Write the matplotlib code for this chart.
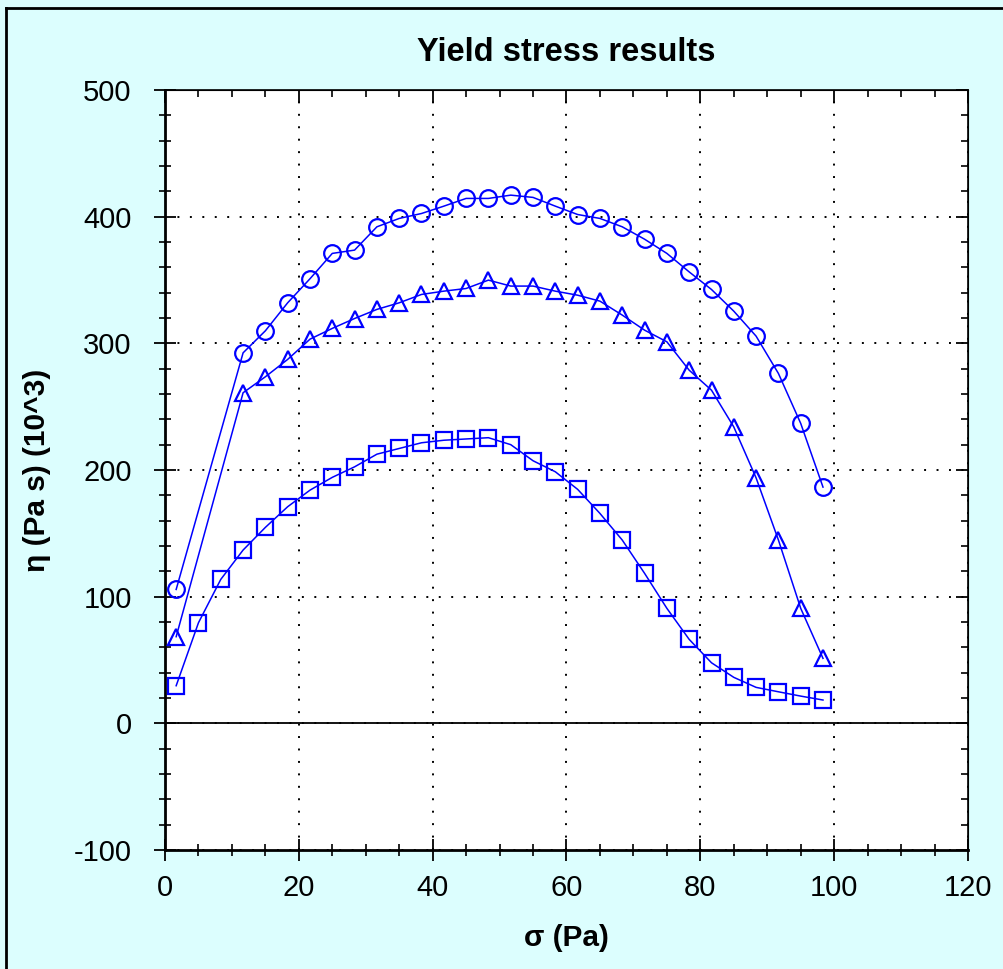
import matplotlib
matplotlib.use("Agg")
import matplotlib.pyplot as plt
from matplotlib.ticker import MultipleLocator
from matplotlib.lines import Line2D

plt.rcParams['font.family'] = ['Liberation Sans', 'DejaVu Sans']
plt.rcParams['axes.unicode_minus'] = False

# x positions (Pa)
x_all = [1.67, 5.0, 8.33, 11.67, 15.0, 18.33, 21.67, 25.0, 28.33, 31.67, 35.0,
         38.33, 41.67, 45.0, 48.33, 51.67, 55.0, 58.33, 61.67, 65.0, 68.33,
         71.67, 75.0, 78.33, 81.67, 85.0, 88.33, 91.67, 95.0, 98.33]
x_sub = [1.67, 11.67, 15.0, 18.33, 21.67, 25.0, 28.33, 31.67, 35.0,
         38.33, 41.67, 45.0, 48.33, 51.67, 55.0, 58.33, 61.67, 65.0, 68.33,
         71.67, 75.0, 78.33, 81.67, 85.0, 88.33, 91.67, 95.0, 98.33]

circles = [105.7, 292.5, 309.9, 332, 351, 371, 373.6, 392, 398.6, 402.5, 408.3,
           414.4, 414.4, 417, 415.2, 408.3, 401.7, 398.6, 392, 382.2, 371,
           356.4, 342.5, 325.4, 305.7, 276.2, 236.8, 186.5]
triangles = [68.4, 261, 273.6, 287.3, 303.3, 311.8, 319.6, 326.8, 332, 338.6,
             341.2, 343.3, 349.9, 345.2, 345.2, 341.2, 338, 333.3, 322.3, 310.4,
             301.2, 278.8, 263, 234, 193.8, 144.7, 90.8, 51.3]
squares = [29.7, 79.4, 113.6, 136.8, 154.7, 171, 184.1, 194.2, 202.5, 212.5,
           217, 221.5, 223.5, 224.5, 225.5, 220, 207.3, 198.6, 184.7, 165.7,
           144.7, 118.4, 90.8, 66.3, 47.8, 36.3, 28.4, 24.9, 21.5, 18.4]

title = "Yield stress results"
xlabel = "σ (Pa)"
ylabel = "η (Pa s) (10^3)"

bg = '#DCFEFE'
fig = plt.figure(figsize=(10.04, 9.69), dpi=100, facecolor=bg)
ax = fig.add_axes([165/1004, 1-850/969, (968-165)/1004, (850-90)/969])
ax.set_facecolor('white')

blue = '#0000FF'
common = dict(color=blue, lw=1.1, mfc='none', mec=blue, mew=1.6, zorder=3)
ax.plot(x_sub, circles, marker='o', ms=12, **common)
ax.plot(x_sub, triangles, marker='^', ms=12, **common)
ax.plot(x_all, squares, marker='s', ms=11, **common)

ax.set_xlim(0, 120)
ax.set_ylim(-100, 500)
ax.xaxis.set_major_locator(MultipleLocator(20))
ax.xaxis.set_minor_locator(MultipleLocator(5))
ax.yaxis.set_major_locator(MultipleLocator(100))
ax.yaxis.set_minor_locator(MultipleLocator(20))

ax.grid(True, which='major', color='black', linestyle=(0, (1, 5.4)), lw=1.4)
ax.axhline(0, color='black', lw=1.3, zorder=2)

for s in ax.spines.values():
    s.set_color('black')
    s.set_linewidth(1.2)
ax.spines['left'].set_linewidth(2.0)
ax.spines['bottom'].set_linewidth(2.0)

ax.tick_params(which='major', direction='inout', length=16, width=1.3,
               labelsize=21, colors='black')
ax.tick_params(which='minor', direction='inout', length=9, width=1.2)
ax.tick_params(axis='x', which='major', pad=9)
ax.tick_params(axis='y', which='major', pad=16)
ax.tick_params(which='both', top=False, right=False)

axt = ax.secondary_xaxis('top')
axt.xaxis.set_major_locator(MultipleLocator(20))
axt.xaxis.set_minor_locator(MultipleLocator(5))
axt.tick_params(which='major', direction='in', length=9, width=1.3, labeltop=False)
axt.tick_params(which='minor', direction='in', length=5, width=1.2)
axr = ax.secondary_yaxis('right')
axr.yaxis.set_major_locator(MultipleLocator(100))
axr.yaxis.set_minor_locator(MultipleLocator(20))
axr.tick_params(which='major', direction='in', length=9, width=1.3, labelright=False)
axr.tick_params(which='minor', direction='in', length=5, width=1.2)

ax.set_title(title, fontsize=23.5, fontweight='bold', pad=21)
ax.set_xlabel(xlabel, fontsize=21.5, fontweight='bold', labelpad=16)
ax.set_ylabel(ylabel, fontsize=21.5, fontweight='bold', labelpad=16)

# figure frame (left and top)
fig.add_artist(Line2D([6/1004, 6/1004], [0, 1-8/969], color='black', lw=2,
                      transform=fig.transFigure))
fig.add_artist(Line2D([6/1004, 1], [1-8/969, 1-8/969], color='black', lw=2,
                      transform=fig.transFigure))

fig.savefig('out.png', dpi=100, facecolor=bg)
